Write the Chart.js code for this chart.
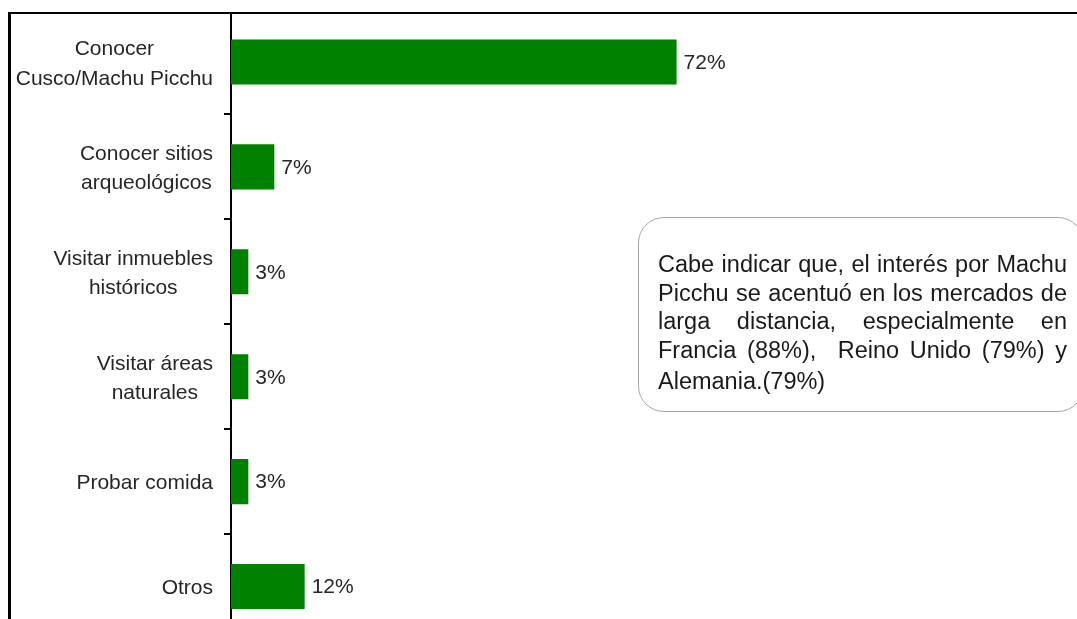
<!DOCTYPE html>
<html><head><meta charset="utf-8">
<script src="https://cdn.jsdelivr.net/npm/chart.js@4.4.0/dist/chart.umd.min.js"></script>
<style>
html,body{margin:0;padding:0;background:#fff;}
#wrap{position:relative;width:1077px;height:619px;overflow:hidden;background:#fff;}
#cv{position:absolute;left:0;top:0;}
#mask{position:absolute;left:0;top:0;width:1077px;height:12px;background:#fff;}
#frame{position:absolute;left:8px;top:12px;width:1200px;height:800px;border-top:2px solid #000;border-left:3px solid #000;pointer-events:none;}
#note{position:absolute;left:638px;top:217px;width:446px;height:195px;border:1.5px solid #a6a6a6;border-radius:26px;box-sizing:border-box;font-family:"Liberation Sans",Arial,sans-serif;font-size:23.5px;color:#1a1a1a;}
.ln{position:absolute;left:19px;width:409px;white-space:nowrap;text-align:justify;text-align-last:justify;line-height:29px;}
</style>
</head>
<body>
<div id="wrap">
  <canvas id="cv" width="1077" height="650"></canvas>
  <div id="mask"></div>
  <div id="frame"></div>
  <div id="note">
    <div class="ln" style="top:32px">Cabe indicar que, el interés por Machu</div>
    <div class="ln" style="top:61px">Picchu se acentuó en los mercados de</div>
    <div class="ln" style="top:89px">larga distancia, especialmente en</div>
    <div class="ln" style="top:118px">Francia (88%),&nbsp; Reino Unido (79%) y</div>
    <div class="ln" style="top:149px;text-align-last:left">Alemania.(79%)</div>
  </div>
</div>
<script>
const categories = [['Conocer','Cusco/Machu Picchu'],['Conocer sitios','arqueológicos'],['Visitar inmuebles','históricos'],['Visitar áreas','naturales'],'Probar comida','Otros'];
const values = [72, 7, 2.8, 2.8, 2.8, 11.9];
const valueLabels = ['72%','7%','3%','3%','3%','12%'];

const FONT = '21px "Liberation Sans", Arial, sans-serif';
const TEXT_COLOR = '#262626';

const labelPlugin = {
  id: 'lbls',
  afterDatasetsDraw(chart) {
    const ctx = chart.ctx;
    const ys = chart.scales.y;
    const meta = chart.getDatasetMeta(0);
    ctx.save();
    ctx.font = FONT;
    ctx.fillStyle = TEXT_COLOR;
    ctx.textBaseline = 'middle';
    const lh = 29.5;
    categories.forEach((c, i) => {
      const lines = Array.isArray(c) ? c : [c];
      const yc = ys.getPixelForValue(i) + 2;
      const w = Math.max(...lines.map(l => ctx.measureText(l).width));
      const cx = 213 - w / 2;
      ctx.textAlign = 'center';
      lines.forEach((l, j) => ctx.fillText(l, cx, yc + (j - (lines.length - 1) / 2) * lh));
    });
    ctx.textAlign = 'left';
    meta.data.forEach((bar, i) => ctx.fillText(valueLabels[i], bar.x + 7, bar.y + 1));
    ctx.restore();
  }
};

new Chart(document.getElementById('cv'), {
  type: 'bar',
  data: {
    labels: categories,
    datasets: [{
      data: values,
      backgroundColor: '#008000',
      borderWidth: 0,
      categoryPercentage: 1,
      barPercentage: 0.43
    }]
  },
  options: {
    indexAxis: 'y',
    responsive: false,
    devicePixelRatio: 1,
    animation: false,
    layout: { padding: { top: 9.5, bottom: 11, left: 0, right: 0 } },
    plugins: { legend: { display: false }, tooltip: { enabled: false } },
    scales: {
      x: { display: false, min: 0, max: 136.7 },
      y: {
        offset: true,
        grid: {
          offset: true,
          drawOnChartArea: false,
          drawTicks: true,
          tickLength: 7,
          lineWidth: 2,
          color: c => c.index === 0 ? 'rgba(0,0,0,0)' : '#000'
        },
        border: { display: true, color: '#000', width: 2 },
        ticks: { display: false },
        afterFit: s => { s.width = 231; }
      }
    }
  },
  plugins: [labelPlugin]
});
</script>
</body></html>
